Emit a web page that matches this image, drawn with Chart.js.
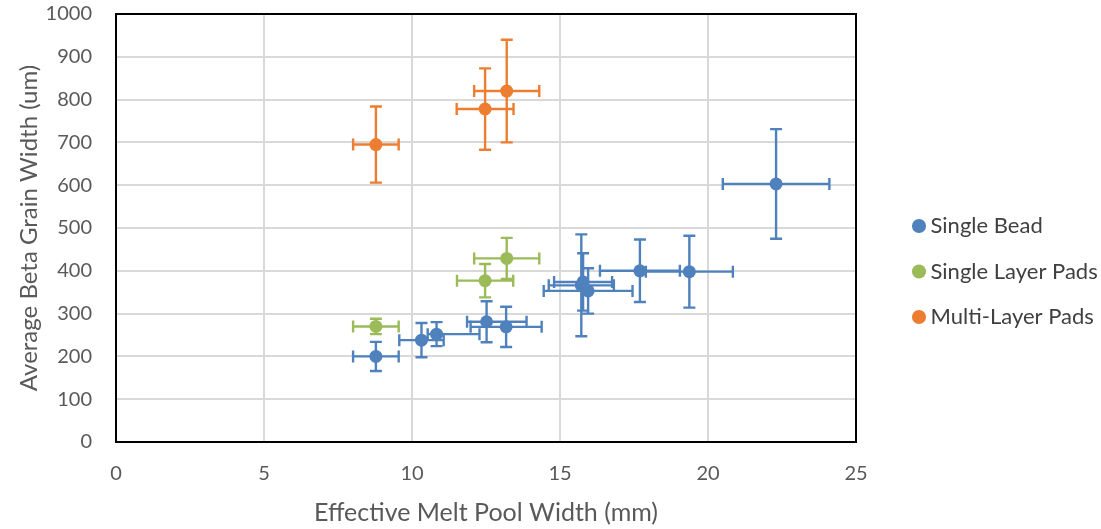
<!DOCTYPE html>
<html>
<head>
<meta charset="utf-8">
<script src="https://cdn.jsdelivr.net/npm/chart.js@4/dist/chart.umd.min.js"></script>
<style>
  html, body { margin: 0; padding: 0; background: #ffffff; }
  #wrap { width: 1101px; height: 529px; }
</style>
</head>
<body>
<div id="wrap"><canvas id="c" width="1101" height="529"></canvas></div>
<script>
// Single Bead: melt pool width (mm), grain width (um) and their error extents
const beadX      = [8.78, 10.32, 10.83, 12.52, 13.18, 15.72, 15.78, 15.95, 17.70, 19.37, 22.30];
const beadY      = [200, 238, 252, 281, 269, 366, 374, 353, 400, 398, 603];
const beadXErrLo = [0.77, 0.75, 0.30, 0.66, 1.20, 1.10, 0.98, 1.50, 1.35, 1.47, 1.80];
const beadXErrHi = [0.77, 0.75, 1.45, 1.35, 1.20, 1.10, 0.98, 1.50, 1.35, 1.47, 1.80];
const beadYErr   = [34, 40, 28, 48, 47, 119, 67, 53, 73, 84, 128];

// Single Layer Pads
const layerX      = [8.78, 12.47, 13.20];
const layerY      = [270, 377, 429];
const layerXErrLo = [0.77, 0.95, 1.10];
const layerXErrHi = [0.77, 0.95, 1.10];
const layerYErr   = [18, 39, 48];

// Multi-Layer Pads
const multiX      = [8.78, 12.47, 13.20];
const multiY      = [695, 778, 820];
const multiXErrLo = [0.77, 0.96, 1.10];
const multiXErrHi = [0.77, 0.96, 1.10];
const multiYErr   = [89, 95, 120];

const seriesNames = ['Single Bead', 'Single Layer Pads', 'Multi-Layer Pads'];
const xTitle = 'Effective Melt Pool Width (mm)';
const yTitle = 'Average Beta Grain Width (um)';

const FONT = 'Lato, "Open Sans", sans-serif';
const TEXT = '#595959';

function points(xs, ys, lo, hi, ye) {
  return xs.map((x, i) => ({ x: x, y: ys[i], xLo: lo[i], xHi: hi[i], yErr: ye[i] }));
}

// Draws horizontal and vertical error bars with end caps under each series' markers
const errorBars = {
  id: 'errorBars',
  beforeDatasetDraw(chart, args) {
    const ds = chart.data.datasets[args.index];
    const xs = chart.scales.x, ys = chart.scales.y;
    const ctx = chart.ctx;
    const cap = 6;
    ctx.save();
    ctx.strokeStyle = ds.backgroundColor;
    ctx.lineWidth = 2.4;
    ctx.lineCap = 'butt';
    ds.data.forEach(p => {
      const cx = xs.getPixelForValue(p.x), cy = ys.getPixelForValue(p.y);
      const x1 = xs.getPixelForValue(p.x - p.xLo), x2 = xs.getPixelForValue(p.x + p.xHi);
      const y1 = ys.getPixelForValue(p.y + p.yErr), y2 = ys.getPixelForValue(p.y - p.yErr);
      ctx.beginPath();
      ctx.moveTo(x1, cy); ctx.lineTo(x2, cy);
      ctx.moveTo(x1, cy - cap); ctx.lineTo(x1, cy + cap);
      ctx.moveTo(x2, cy - cap); ctx.lineTo(x2, cy + cap);
      ctx.moveTo(cx, y1); ctx.lineTo(cx, y2);
      ctx.moveTo(cx - cap, y1); ctx.lineTo(cx + cap, y1);
      ctx.moveTo(cx - cap, y2); ctx.lineTo(cx + cap, y2);
      ctx.stroke();
    });
    ctx.restore();
  }
};

// Black frame around the plot area
const plotFrame = {
  id: 'plotFrame',
  beforeDatasetsDraw(chart) {
    const a = chart.chartArea, ctx = chart.ctx;
    ctx.save();
    ctx.strokeStyle = '#000000';
    ctx.lineWidth = 2;
    ctx.strokeRect(a.left, a.top, a.right - a.left, a.bottom - a.top);
    ctx.restore();
  }
};

const colors = ['#4f81bd', '#9bbb59', '#ed7d31'];
const seriesData = [
  points(beadX, beadY, beadXErrLo, beadXErrHi, beadYErr),
  points(layerX, layerY, layerXErrLo, layerXErrHi, layerYErr),
  points(multiX, multiY, multiXErrLo, multiXErrHi, multiYErr)
];

new Chart(document.getElementById('c'), {
  type: 'scatter',
  data: {
    datasets: seriesNames.map((name, i) => ({
      label: name,
      data: seriesData[i],
      backgroundColor: colors[i],
      borderColor: colors[i],
      borderWidth: 0,
      pointRadius: 6.5,
      pointHoverRadius: 6.5,
      pointStyle: 'circle'
    }))
  },
  options: {
    responsive: false,
    animation: false,
    events: [],
    layout: { padding: { top: 14, left: 0, right: 0, bottom: 0 } },
    plugins: {
      tooltip: { enabled: false },
      legend: {
        position: 'right',
        align: 'center',
        maxWidth: 206,
        labels: {
          usePointStyle: true,
          pointStyle: 'circle',
          boxWidth: 1,
          boxHeight: 10,
          padding: 23.5,
          color: '#404040',
          font: { family: FONT, size: 22 }
        }
      }
    },
    scales: {
      x: {
        type: 'linear',
        min: 0, max: 25,
        afterFit: s => { s.height = 87; },
        ticks: { stepSize: 5, padding: 20, color: TEXT, font: { family: FONT, size: 20 } },
        grid: { color: '#d9d9d9', lineWidth: 2, drawTicks: false },
        border: { display: false },
        title: { display: true, text: xTitle, color: TEXT, padding: { top: 0, bottom: 1 }, font: { family: FONT, size: 25 } }
      },
      y: {
        type: 'linear',
        min: 0, max: 1000,
        afterFit: s => { s.width = 116; },
        ticks: {
          stepSize: 100, padding: 0, color: TEXT, font: { family: FONT, size: 20 },
          callback: v => String(v)
        },
        grid: { color: '#d9d9d9', lineWidth: 2, drawTicks: true, tickLength: 24, tickColor: 'rgba(0,0,0,0)' },
        border: { display: false },
        title: { display: true, text: yTitle, color: TEXT, padding: { top: 15, bottom: 0 }, font: { family: FONT, size: 24 } }
      },
      gap: {
        type: 'linear',
        position: 'right',
        display: true,
        afterFit: s => { s.width = 39; },
        ticks: { display: false },
        grid: { display: false },
        border: { display: false }
      }
    }
  },
  plugins: [errorBars, plotFrame]
});
</script>
</body>
</html>
